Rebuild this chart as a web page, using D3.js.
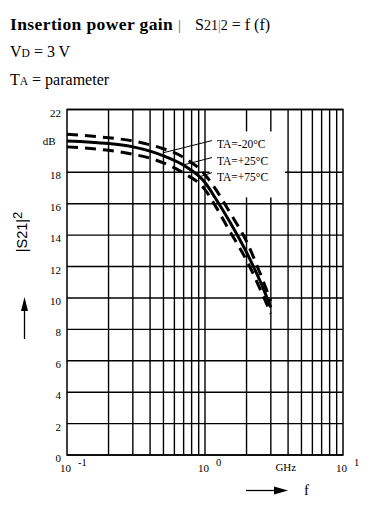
<!DOCTYPE html>
<html><head><meta charset="utf-8">
<script src="https://cdn.jsdelivr.net/npm/d3@7"></script>
<style>
html,body{margin:0;padding:0;background:#fff;}
svg{display:block;}
text{font-family:"Liberation Serif","Times New Roman",serif;fill:#000;}
</style></head>
<body>
<svg id="c" width="390" height="514"></svg>
<script>
// ---- data ----
const freqs   = [0.1, 0.2, 0.3, 0.4, 0.5, 0.7, 1.0, 1.2, 1.5, 2.0, 2.5, 3.0];
const gainM20 = [20.43, 20.2, 20.0, 19.75, 19.5, 18.95, 17.85, 16.9, 15.5, 13.6, 11.6, 9.8];
const gainP25 = [20.0, 19.83, 19.62, 19.35, 19.05, 18.45, 17.35, 16.3, 14.9, 12.9, 11.1, 9.4];
const gainP75 = [19.62, 19.4, 19.15, 18.9, 18.6, 17.95, 16.9, 15.8, 14.3, 12.4, 10.6, 9.0];
const seriesNames = ["TA=-20°C", "TA=+25°C", "TA=+75°C"];
const yTicks = [0, 2, 4, 6, 8, 10, 12, 14, 16, 18, 22];
const yUnit = "dB";
const yUnitAt = 20;
const xGrid = [0.2,0.3,0.4,0.5,0.6,0.7,0.8,0.9,1,2,3,4,5,6,7,8,9];
const xDecades = [{v:0.1, e:"-1"}, {v:1, e:"0"}, {v:10, e:"1"}];
const xUnit = "GHz";
const xUnitAt = 3.85;
// leader lines: [label anchor f, dB] -> [curve f, dB]
const leaderFrom = [[1.2, 20.02], [1.2, 18.94], [1.2, 17.98]];
const leaderTo   = [[0.5, 19.25], [0.697, 18.47], [0.894, 17.69]];
const labelBase  = [19.53, 18.47, 17.47];
const labelF = 1.22;

// ---- scales ----
const svg = d3.select("#c");
const x = d3.scaleLog().domain([0.1, 10]).range([67, 343]);
const y = d3.scaleLinear().domain([0, 22]).range([455, 109.5]);

// ---- header text ----
const t1 = svg.append("text").attr("x", 10).attr("y", 29.5);
t1.append("tspan").attr("font-weight", "bold").attr("font-size", 17.5).attr("letter-spacing", 0.4).text("Insertion power gain ");
t1.append("tspan").attr("font-size", 15).attr("fill", "#555").text("|");
const t1b = svg.append("text").attr("x", 195).attr("y", 29.5);
t1b.append("tspan").attr("font-size", 16).text("S");
t1b.append("tspan").attr("font-size", 14).text("21");
t1b.append("tspan").attr("font-size", 14).attr("fill", "#777").text("|");
t1b.append("tspan").attr("font-size", 14).text("2");
t1b.append("tspan").attr("font-size", 16).text(" = f (f)");

const t2 = svg.append("text").attr("x", 10).attr("y", 56.7).attr("font-size", 16);
t2.append("tspan").text("V");
t2.append("tspan").attr("font-size", 11.5).text("D");
t2.append("tspan").text(" = 3 V");

const t3 = svg.append("text").attr("x", 10).attr("y", 85).attr("font-size", 16);
t3.append("tspan").text("T");
t3.append("tspan").attr("font-size", 11.5).text("A");
t3.append("tspan").text(" = parameter");

// ---- grid ----
const g = svg.append("g");
g.selectAll("line.v").data(xGrid).join("line")
  .attr("x1", d => x(d)).attr("x2", d => x(d))
  .attr("y1", y(22)).attr("y2", y(0))
  .attr("stroke", "#000").attr("stroke-width", 1.4);
g.selectAll("line.h").data(yTicks).join("line")
  .attr("x1", x(0.1)).attr("x2", x(10))
  .attr("y1", d => y(d)).attr("y2", d => y(d))
  .attr("stroke", "#000").attr("stroke-width", 1.4);
g.append("rect").attr("x", x(0.1)).attr("y", y(22))
  .attr("width", x(10) - x(0.1)).attr("height", y(0) - y(22))
  .attr("fill", "none").attr("stroke", "#000").attr("stroke-width", 1.5);

// label background box
svg.append("rect")
  .attr("x", x(1.08)).attr("y", y(20.6))
  .attr("width", x(3.8) - x(1.08)).attr("height", y(16.4) - y(20.6))
  .attr("fill", "#fff");

// ---- y tick labels ----
svg.selectAll("text.yt").data(yTicks).join("text")
  .attr("x", 61).attr("y", d => y(d) + 7)
  .attr("text-anchor", "end").attr("font-size", 11).attr("fill", "#222")
  .text(d => d);
svg.append("text").attr("x", 55.5).attr("y", y(yUnitAt) + 4)
  .attr("text-anchor", "end").attr("font-size", 11).attr("fill", "#222").text(yUnit);

// ---- x decade labels ----
svg.selectAll("text.xb").data(xDecades).join("text")
  .attr("x", d => x(d.v) - 1.5).attr("y", 471.5)
  .attr("text-anchor", "middle").attr("font-size", 11).attr("fill", "#222")
  .text("10");
svg.selectAll("text.xe").data(xDecades).join("text")
  .attr("x", d => x(d.v) + 11).attr("y", 466)
  .attr("text-anchor", "start").attr("font-size", 10.5).attr("fill", "#222")
  .text(d => d.e);
svg.append("text").attr("x", x(xUnitAt)).attr("y", 471)
  .attr("text-anchor", "middle").attr("font-size", 11).attr("fill", "#222").text(xUnit);

// ---- curves ----
const line = d3.line().x(d => x(d[0])).y(d => y(d[1])).curve(d3.curveMonotoneX);
const series = [gainM20, gainP25, gainP75];
const dashes = ["11 7", null, "11 7"];
series.forEach((s, i) => {
  svg.append("path")
    .datum(freqs.map((f, j) => [f, s[j]]))
    .attr("d", line)
    .attr("fill", "none").attr("stroke", "#000").attr("stroke-width", 3)
    .attr("stroke-dasharray", dashes[i]);
});

// ---- leaders and labels ----
leaderFrom.forEach((p, i) => {
  svg.append("line")
    .attr("x1", x(p[0]) - 4).attr("y1", y(p[1]))
    .attr("x2", x(leaderTo[i][0])).attr("y2", y(leaderTo[i][1]))
    .attr("stroke", "#000").attr("stroke-width", 1);
});
svg.selectAll("text.lab").data(seriesNames).join("text")
  .attr("x", x(labelF)).attr("y", (d, i) => y(labelBase[i]))
  .attr("font-size", 11.5).attr("fill", "#111")
  .text(d => d);

// ---- axis titles / arrows ----
const yl = svg.append("text")
  .attr("transform", "translate(27,232) rotate(-90)")
  .attr("text-anchor", "middle")
  .style("font-family", "'Liberation Sans',Arial,sans-serif")
  .attr("font-size", 14.5);
yl.append("tspan").text("|S21|");
yl.append("tspan").attr("dy", -5).attr("font-size", 13).text("2");

svg.append("line").attr("x1", 24.5).attr("x2", 24.5).attr("y1", 339).attr("y2", 306)
  .attr("stroke", "#000").attr("stroke-width", 1.3);
svg.append("path").attr("d", d3.line()([[21, 311], [28, 311], [24.5, 297]])).attr("fill", "#000");

svg.append("line").attr("x1", 246).attr("x2", 278).attr("y1", 490.5).attr("y2", 490.5)
  .attr("stroke", "#000").attr("stroke-width", 1.3);
svg.append("path").attr("d", d3.line()([[274, 486.5], [274, 494.5], [288, 490.5]])).attr("fill", "#000");
svg.append("text").attr("x", 304).attr("y", 495).attr("font-size", 15).text("f");
</script>
</body></html>
